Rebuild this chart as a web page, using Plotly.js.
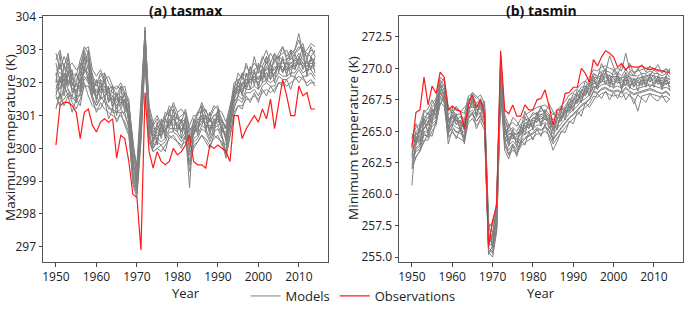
<!DOCTYPE html>
<html>
<head>
<meta charset="utf-8">
<script src="https://cdn.plot.ly/plotly-3.0.1.min.js"></script>
<style>html,body{margin:0;padding:0;background:#fff;}#chart{width:685px;height:311px;}</style>
</head>
<body>
<div id="chart"></div>
<script>
const years = Array.from({length: 65}, (_, i) => 1950 + i);

const tasmaxObs = [300.1,301.3,301.4,301.4,301.3,301.1,300.3,301.1,301.2,300.7,
300.5,300.8,300.9,300.8,300.9,299.7,300.4,300.3,299.6,298.6,
298.5,296.9,301.7,299.9,299.4,299.9,299.6,299.5,299.6,300.0,
299.8,299.9,300.1,300.4,299.6,299.5,299.5,299.4,300.1,300.0,
300.1,300.0,299.9,299.6,301.0,301.0,300.3,300.6,300.8,301.0,
300.8,301.2,300.9,301.5,300.6,301.3,302.1,301.6,301.0,301.0,
301.9,301.6,301.7,301.2,301.2];

const tasmaxModel01 = [302.6,302.0,302.5,302.9,302.1,302.0,302.4,303.0,302.6,302.0,301.9,302.3,302.0,301.8,301.9,301.6,301.9,301.6,301.4,299.9,299.2,301.1,303.7,301.0,300.7,300.9,300.6,301.0,301.1,301.3,300.9,301.0,301.1,300.5,300.8,301.1,301.3,301.0,300.9,301.2,301.3,300.8,300.7,301.2,302.0,302.1,302.2,302.5,302.3,302.4,302.5,302.5,302.8,302.5,302.6,302.9,303.1,302.7,302.8,303.0,303.3,302.9,302.8,303.0,302.9];
const tasmaxModel02 = [301.5,301.6,301.7,301.8,301.5,301.6,301.6,302.1,302.2,301.5,301.3,301.5,301.6,301.2,301.2,301.1,301.1,301.1,300.6,299.2,298.7,300.4,302.9,300.5,300.0,300.2,300.1,300.2,300.5,300.5,300.4,300.2,300.4,299.8,300.2,300.3,300.6,300.5,300.2,300.5,300.6,300.3,300.1,300.6,301.3,301.5,301.4,301.7,301.7,301.8,301.6,301.9,302.0,301.9,301.9,302.2,302.1,302.1,302.2,302.2,302.4,302.2,302.2,302.3,302.1];
const tasmaxModel03 = [302.3,301.5,302.6,301.9,302.3,301.5,302.2,302.8,302.0,302.3,301.4,302.1,301.5,301.9,301.2,301.7,301.3,301.7,300.9,299.4,299.1,300.6,303.2,301.1,300.1,300.8,300.3,300.9,300.6,301.2,300.5,300.9,300.5,298.8,300.7,300.5,301.2,300.6,300.9,300.6,301.2,300.4,299.9,301.1,301.4,302.1,301.6,302.3,301.8,302.4,301.8,302.5,302.1,302.6,302.0,302.8,302.3,302.7,302.2,302.9,302.5,302.9,302.2,302.8,302.3];
const tasmaxModel04 = [302.7,303.0,302.4,302.6,302.3,302.2,302.7,303.1,302.9,302.2,302.0,302.2,302.3,302.0,301.8,301.9,301.8,301.9,301.3,300.2,299.4,301.2,303.5,301.2,300.6,300.6,300.8,300.9,301.3,301.1,301.0,300.8,301.2,300.6,300.6,301.1,301.1,301.2,300.8,301.0,301.1,300.9,300.6,301.1,301.9,302.0,302.3,302.2,302.4,302.6,302.4,302.8,302.6,302.9,302.7,302.8,302.9,303.0,302.7,302.9,303.1,303.0,302.9,302.8,303.0];
const tasmaxModel05 = [301.3,301.4,301.5,301.7,301.4,301.2,301.5,301.9,301.9,301.5,301.1,301.4,301.2,301.1,301.0,300.9,301.0,300.8,300.5,298.9,298.5,300.2,302.8,300.3,299.9,300.0,299.9,300.1,300.3,300.4,300.2,300.1,300.2,299.5,300.0,300.2,300.4,300.3,300.1,300.3,300.4,300.1,299.9,300.4,301.1,301.3,301.3,301.5,301.5,301.6,301.5,301.7,301.8,301.7,301.8,302.0,302.0,301.9,302.0,302.1,302.2,302.1,302.0,302.1,301.9];
const tasmaxModel06 = [301.8,302.2,301.9,302.4,301.7,302.0,301.8,302.6,302.7,301.7,301.8,301.7,302.1,301.4,301.6,301.2,301.6,301.2,301.1,299.7,298.8,300.9,303.4,300.6,300.4,300.3,300.6,300.5,300.9,300.7,300.8,300.5,300.9,300.1,300.4,300.9,300.8,301.0,300.5,300.9,300.8,300.7,300.3,300.8,301.7,301.7,302.0,301.9,302.2,302.0,302.2,302.1,302.5,302.3,302.5,302.4,302.7,302.4,302.6,302.5,302.8,302.6,302.6,302.5,302.6];
const tasmaxModel07 = [302.1,301.8,302.3,302.0,302.0,301.7,302.1,302.3,302.5,302.0,301.5,302.0,301.7,301.7,301.4,301.5,301.4,301.5,300.8,299.5,299.0,300.7,303.1,300.9,300.2,300.6,300.4,300.7,300.7,301.0,300.6,300.7,300.6,300.3,300.5,300.6,301.0,300.7,300.7,300.7,301.0,300.5,300.5,300.9,301.5,301.9,301.7,302.1,302.0,302.2,301.9,302.3,302.2,302.3,302.4,302.5,302.4,302.5,302.4,302.7,302.6,302.5,302.5,302.7,302.5];
const tasmaxModel08 = [301.9,302.1,301.8,302.3,301.8,301.9,301.9,302.4,302.3,301.8,301.7,301.8,301.9,301.5,301.5,301.3,301.5,301.3,301.0,299.6,298.9,300.8,303.3,300.7,300.4,300.4,300.5,300.5,300.8,300.9,300.7,300.5,300.8,300.0,300.5,300.8,300.9,300.9,300.6,300.8,300.9,300.6,300.4,301.0,301.7,302.0,301.9,302.2,302.3,302.3,302.3,302.4,302.6,302.4,302.7,302.8,302.7,302.7,302.9,303.0,303.5,302.9,303.0,303.2,303.1];
const tasmaxModel09 = [302.4,302.3,302.2,302.5,302.0,302.1,302.3,302.7,302.8,302.1,301.9,302.1,302.0,301.8,301.7,301.6,301.7,301.6,301.2,299.8,299.3,301.0,303.6,301.0,300.5,300.7,300.5,300.8,301.0,301.0,300.9,300.8,300.9,300.4,300.7,300.9,301.0,301.0,300.8,301.0,301.0,300.8,300.6,301.0,301.8,301.9,302.0,302.1,302.1,302.3,302.1,302.3,302.4,302.4,302.4,302.6,302.6,302.6,302.6,302.7,302.9,302.7,302.6,302.7,302.7];
const tasmaxModel10 = [301.6,301.3,301.9,301.6,301.6,301.4,301.7,302.2,302.0,301.6,301.3,301.6,301.4,301.3,301.1,301.1,301.2,301.0,300.7,299.0,298.6,300.5,303.0,300.4,300.0,300.3,300.2,300.3,300.6,300.6,300.5,300.3,300.5,299.6,300.3,300.4,300.7,300.6,300.3,300.6,300.7,300.4,299.8,300.7,301.2,301.6,301.5,301.8,301.8,301.9,301.8,302.0,302.1,302.0,302.1,302.3,302.2,302.2,302.3,302.3,302.5,302.3,302.4,302.4,302.2];
const tasmaxModel11 = [302.2,302.6,302.0,302.8,301.9,302.3,302.0,302.9,302.4,302.0,301.7,302.0,301.9,301.7,301.6,301.4,301.6,301.4,301.1,299.3,298.8,300.9,303.4,300.8,300.3,300.5,300.4,300.6,300.8,300.8,300.7,300.6,300.7,300.2,300.5,300.6,300.8,300.8,300.6,300.8,300.9,300.6,300.3,300.9,301.6,301.8,301.8,302.0,302.1,302.1,302.0,302.2,302.3,302.1,302.3,302.5,302.5,302.3,302.5,302.5,302.6,302.6,302.4,302.5,302.4];
const tasmaxModel12 = [301.7,302.0,302.1,302.1,301.8,301.8,301.9,302.4,302.3,301.9,301.6,301.8,301.8,301.6,301.5,301.5,301.4,301.4,300.9,299.5,299.1,300.8,303.2,300.8,300.3,300.4,300.4,300.6,300.7,300.9,300.7,300.6,300.6,300.1,300.4,300.7,300.9,300.7,300.6,300.7,300.9,300.6,300.4,300.8,301.6,301.8,301.7,302.0,302.0,302.1,302.0,302.2,302.3,302.2,302.3,302.5,302.4,302.4,302.5,302.6,302.7,302.5,302.5,302.6,302.5];
const tasmaxModel13 = [302.0,302.9,301.6,302.3,302.4,301.4,302.6,302.4,303.0,301.6,302.1,301.5,302.3,301.4,301.9,301.0,301.9,301.1,301.3,300.3,298.9,301.3,303.5,300.3,300.8,300.1,300.9,300.3,301.2,300.5,301.1,300.3,301.0,299.9,300.9,300.4,301.3,300.5,301.1,300.4,301.2,300.5,300.7,300.6,301.8,301.6,302.3,301.8,302.5,301.9,302.6,302.0,302.8,302.1,302.9,302.3,302.8,302.2,303.0,302.4,302.7,303.1,302.3,302.8,302.6];
const tasmaxModel14 = [301.2,301.7,301.3,301.6,301.1,301.5,301.3,302.0,301.6,301.3,301.2,301.2,301.5,300.9,301.2,300.8,301.1,300.7,300.4,299.1,298.7,300.3,302.7,300.2,299.9,300.0,300.1,299.9,300.4,300.3,300.2,300.0,300.4,299.3,300.1,300.2,300.4,300.2,300.0,300.4,300.3,300.2,299.7,300.3,301.0,301.3,301.2,301.6,301.4,301.7,301.4,301.8,301.6,301.9,301.7,302.0,301.9,302.1,301.8,302.2,302.0,302.2,301.9,302.0,302.0];
const tasmaxModel15 = [302.9,302.4,302.8,302.5,302.6,302.4,302.5,303.0,303.1,302.4,302.2,302.4,302.1,302.2,301.9,301.8,302.0,301.7,301.5,300.0,299.5,301.4,303.6,301.3,300.8,301.0,300.7,301.1,301.0,301.4,301.1,301.2,301.0,300.7,301.0,301.0,301.4,301.1,301.0,301.3,301.2,301.1,300.8,301.3,301.8,302.3,302.1,302.6,302.2,302.8,302.3,302.7,303.0,302.6,302.9,302.7,303.1,302.8,303.0,302.9,303.0,303.2,302.7,303.1,302.8];
const tasmaxModel16 = [301.6,302.1,302.2,301.8,301.6,302.0,301.7,302.5,302.1,301.8,301.5,301.9,301.6,301.8,301.3,301.6,301.2,301.5,300.8,299.2,299.1,300.6,303.0,300.6,300.5,300.2,300.7,300.4,300.9,300.6,300.6,300.8,300.4,300.3,300.6,300.8,300.7,301.0,300.4,300.9,300.7,300.8,300.2,300.8,301.4,301.6,301.9,301.8,302.1,302.2,302.1,302.4,302.0,302.4,302.2,302.6,302.3,302.6,302.5,302.4,302.8,302.4,302.7,302.4,302.8];

const tasminObs = [263.7,266.5,266.7,269.3,267.1,268.6,268.0,269.7,269.3,266.7,
267.0,266.7,266.6,265.2,267.1,267.9,266.9,267.5,266.5,255.8,
257.9,259.1,271.4,266.7,266.4,267.1,266.2,266.2,267.1,266.7,
266.7,267.5,267.6,268.3,267.0,265.5,266.7,266.7,268.0,268.1,
268.5,268.5,270.0,269.6,268.9,270.7,270.2,270.9,271.4,271.2,
270.9,270.1,270.4,269.9,270.2,270.1,270.1,270.2,270.0,269.9,
270.0,269.8,269.8,269.7,269.7];

const tasminModel01 = [264.0,265.0,265.3,266.2,266.0,266.9,267.3,269.1,268.6,266.3,266.7,266.3,266.4,265.9,267.5,267.8,267.2,267.6,266.8,257.2,257.0,258.9,270.6,265.8,265.0,265.3,265.0,265.6,265.9,266.0,266.3,266.5,266.6,266.7,266.4,265.9,266.3,266.6,267.0,267.5,267.7,268.0,268.5,268.6,268.9,269.6,269.4,269.8,269.8,269.7,269.5,269.7,269.4,269.9,269.5,269.4,269.4,269.6,269.6,269.8,269.6,269.6,269.4,269.6,269.3];
const tasminModel02 = [262.3,263.6,263.8,264.9,264.5,265.6,265.9,267.8,267.3,264.8,265.4,264.9,265.0,264.5,266.1,266.5,265.8,266.3,265.5,255.8,255.4,257.4,268.5,264.2,263.5,264.0,263.5,264.2,264.5,264.7,264.9,265.3,265.1,265.4,265.1,264.4,264.9,265.3,265.7,266.1,266.4,266.7,267.1,267.3,267.6,268.2,268.1,268.4,268.5,268.3,268.2,268.3,268.1,268.5,268.2,268.0,268.1,268.2,268.3,268.4,268.3,268.1,268.0,268.2,267.9];
const tasminModel03 = [260.7,264.6,263.9,266.0,264.8,266.8,266.0,268.9,267.5,266.2,265.4,266.3,265.0,266.0,266.3,267.7,266.1,267.5,265.8,256.9,255.8,258.7,269.0,265.6,263.8,265.2,263.7,265.4,264.7,266.0,265.1,266.5,265.4,266.7,265.2,265.8,265.1,266.6,265.9,267.3,266.6,268.0,267.3,268.6,267.8,269.4,268.3,269.7,268.7,269.5,268.4,269.6,268.3,269.7,268.4,269.2,268.2,269.4,268.5,269.6,268.5,269.4,268.3,269.4,268.2];
const tasminModel04 = [264.5,265.3,265.6,266.7,266.3,267.2,267.6,269.3,269.0,266.6,267.0,266.8,266.6,266.4,267.8,268.0,267.6,267.9,267.2,257.6,257.5,259.4,271.0,266.3,265.5,265.7,265.4,266.0,266.3,266.5,266.7,266.9,267.0,267.1,266.8,266.3,266.7,267.0,267.4,267.9,268.1,268.4,268.8,269.0,269.3,269.9,269.8,270.1,270.2,270.0,269.9,270.0,269.8,271.2,269.9,269.7,269.8,269.9,270.0,270.1,270.0,269.9,269.8,269.9,269.8];
const tasminModel05 = [262.0,263.0,263.4,264.3,264.3,265.0,265.5,267.3,267.0,264.5,264.9,264.6,264.4,264.2,265.7,266.0,265.5,265.8,265.1,255.4,255.0,257.0,268.2,263.9,263.1,263.5,263.2,263.8,264.1,264.3,264.5,264.8,264.8,265.0,264.7,264.0,264.5,264.9,265.3,265.7,266.0,266.3,266.7,266.9,267.2,267.8,267.7,268.0,268.1,267.9,267.8,267.9,267.7,268.1,267.8,267.6,266.6,267.8,267.9,268.0,267.9,267.8,267.7,267.8,267.5];
const tasminModel06 = [263.6,264.0,265.0,265.2,265.8,266.0,267.0,268.2,268.4,265.3,266.3,265.5,265.9,265.1,267.0,266.9,266.9,266.7,266.5,256.2,256.6,258.0,269.8,264.8,264.6,264.4,264.6,264.7,265.5,265.2,265.9,265.7,266.2,265.9,266.1,265.0,265.9,265.8,266.7,266.6,267.4,267.2,268.1,267.8,268.6,268.7,269.1,268.9,269.5,268.8,269.2,268.8,269.1,269.0,269.2,268.5,269.1,268.7,269.3,268.9,269.3,268.7,269.1,268.7,269.0];
const tasminModel07 = [263.0,264.4,264.2,265.7,265.0,266.4,266.3,268.6,267.8,265.8,265.8,265.9,265.4,265.5,266.6,267.3,266.4,267.1,266.0,256.6,256.1,258.4,269.3,265.2,264.1,264.8,264.1,265.1,265.0,265.6,265.4,266.1,265.7,266.3,265.6,265.4,265.4,266.2,266.2,267.0,266.9,267.6,267.6,268.2,268.1,269.1,268.6,269.3,269.0,269.2,268.7,269.2,268.6,269.4,268.7,268.9,268.6,269.1,268.8,269.3,268.8,269.1,268.6,269.1,268.5];
const tasminModel08 = [263.9,264.8,265.1,266.0,265.7,266.6,266.9,268.8,268.3,265.9,266.2,266.0,265.8,265.6,267.1,267.4,266.9,267.2,266.5,256.9,256.7,258.6,270.2,265.4,264.7,265.0,264.7,265.3,265.6,265.8,266.0,266.3,266.3,266.5,266.2,265.6,266.0,266.4,266.8,267.2,267.5,267.8,268.2,268.4,268.7,269.3,269.2,269.5,269.6,269.4,269.3,269.4,269.2,269.6,269.3,269.1,269.2,269.3,269.4,269.5,269.4,269.3,269.2,269.3,269.1];
const tasminModel09 = [262.8,263.7,264.0,265.0,264.9,265.8,266.2,268.0,267.6,265.2,265.6,265.3,265.2,264.9,266.4,266.7,266.2,266.5,265.8,256.1,255.9,257.8,269.0,264.6,263.9,264.2,263.9,264.5,264.8,265.0,265.2,265.5,265.5,265.7,265.4,264.8,265.2,265.6,266.0,266.4,266.7,267.0,267.4,267.6,267.9,268.5,268.4,268.7,268.8,268.6,268.5,268.6,268.4,268.8,268.5,268.3,268.4,268.5,268.6,268.7,268.6,268.5,268.4,268.5,268.3];
const tasminModel10 = [263.4,263.9,264.7,265.3,265.5,266.0,266.8,268.3,268.1,265.4,266.1,265.6,265.7,265.2,266.9,267.0,266.7,266.8,266.3,256.4,256.4,258.1,269.6,265.0,264.4,264.5,264.4,264.8,265.3,265.3,265.7,265.8,266.0,266.0,265.9,265.1,265.7,265.9,266.5,266.7,267.2,267.3,267.9,267.9,268.4,268.8,268.9,269.0,269.3,268.9,269.0,268.9,268.9,269.1,269.0,268.6,268.9,268.8,269.1,269.0,269.1,268.8,268.9,268.8,268.8];
const tasminModel11 = [264.2,264.3,265.4,265.6,266.1,266.3,267.2,268.5,268.7,265.7,266.5,265.8,266.2,265.4,267.3,267.1,267.1,266.9,266.7,256.3,256.9,258.3,269.9,265.1,264.9,264.6,264.9,264.9,265.7,265.4,266.1,265.9,266.4,266.1,266.3,265.2,266.1,266.0,266.9,266.8,267.6,267.4,268.3,268.0,268.8,268.9,269.3,269.1,269.7,269.0,269.4,269.0,269.3,269.2,269.4,268.7,269.3,268.9,269.5,269.1,269.5,268.9,269.3,268.9,269.2];
const tasminModel12 = [262.6,263.4,263.6,264.7,264.6,265.4,265.7,267.6,267.3,264.9,265.2,265.0,264.8,264.6,266.0,266.4,265.8,266.2,265.4,255.6,255.3,257.3,268.4,264.2,263.2,263.8,263.3,264.0,264.4,264.6,264.8,265.1,265.1,265.3,265.0,264.3,264.8,265.2,265.6,266.0,266.3,266.6,267.0,267.2,267.5,268.1,268.0,268.3,268.4,268.2,268.1,268.2,268.0,268.4,268.1,267.9,268.0,268.1,268.2,268.3,268.2,268.1,268.0,268.1,267.8];
const tasminModel13 = [264.8,263.9,265.6,265.9,266.5,265.7,267.6,268.0,268.1,264.6,266.9,265.8,265.7,264.3,267.6,267.4,266.8,266.3,267.4,257.9,255.7,259.2,270.4,264.0,265.6,264.6,264.4,263.9,266.2,265.5,265.6,266.0,267.0,266.3,265.9,264.2,266.5,266.2,266.4,267.1,268.0,267.8,267.7,268.4,269.1,268.2,268.8,269.4,270.0,268.5,269.9,269.3,269.1,268.6,269.8,269.4,270.0,269.5,268.7,269.4,269.9,269.6,268.7,269.4,270.0];
const tasminModel14 = [262.1,262.9,263.5,264.2,264.8,264.6,265.9,267.1,267.8,264.0,265.1,264.4,265.3,264.0,266.2,266.5,265.2,266.0,265.6,255.2,255.9,257.1,268.0,263.5,262.8,263.9,263.0,264.3,263.9,265.0,264.3,265.2,264.6,265.6,264.5,263.5,264.2,265.0,264.9,265.8,265.6,266.6,266.2,267.3,266.9,267.4,268.0,267.6,268.2,267.5,268.1,267.6,268.3,267.5,268.0,267.2,267.9,267.6,267.3,268.0,267.6,267.4,267.9,267.3,267.6];
const tasminModel15 = [264.4,265.6,264.9,266.5,266.8,267.5,266.9,268.7,269.2,267.0,266.4,267.0,266.5,266.9,267.2,268.1,267.8,267.4,266.9,257.3,257.8,259.0,270.9,266.0,265.2,266.1,265.8,265.2,266.6,265.9,266.5,266.3,266.9,266.4,267.2,266.6,265.9,267.0,266.6,267.6,267.3,268.3,268.0,269.0,268.6,269.6,269.2,270.4,269.7,271.0,270.1,269.5,270.3,269.8,270.4,269.6,269.9,270.3,269.7,270.2,269.8,270.3,269.6,270.0,269.5];
const tasminModel16 = [263.1,264.9,264.3,265.2,265.6,266.6,266.4,268.2,267.4,265.1,265.6,266.4,265.1,265.8,266.4,267.6,266.3,267.3,266.0,256.0,256.8,258.5,269.2,265.3,264.3,264.9,264.7,265.0,265.2,265.9,265.3,266.4,265.6,266.0,265.6,265.6,265.3,266.2,266.6,266.5,267.0,267.5,267.3,268.3,267.9,268.6,268.5,269.0,268.9,268.8,268.7,269.4,268.4,269.1,268.5,269.2,268.9,268.6,269.1,268.5,268.9,269.2,268.5,268.8,268.9];

const tasmaxModels = [tasmaxModel01,tasmaxModel02,tasmaxModel03,tasmaxModel04,tasmaxModel05,tasmaxModel06,tasmaxModel07,tasmaxModel08,tasmaxModel09,tasmaxModel10,tasmaxModel11,tasmaxModel12,tasmaxModel13,tasmaxModel14,tasmaxModel15,tasmaxModel16];
const tasminModels = [tasminModel01,tasminModel02,tasminModel03,tasminModel04,tasminModel05,tasminModel06,tasminModel07,tasminModel08,tasminModel09,tasminModel10,tasminModel11,tasminModel12,tasminModel13,tasminModel14,tasminModel15,tasminModel16];

const panelTitles = ['(a) tasmax', '(b) tasmin'];
const yTitles = ['Maximum temperature (K)', 'Minimum temperature (K)'];
const xTitle = 'Year';
const legendNames = ['Models', 'Observations'];
const xTicks = [1950,1960,1970,1980,1990,2000,2010];
const yTicksMax = [297,298,299,300,301,302,303,304];
const yTicksMin = [255,257.5,260,262.5,265,267.5,270,272.5];

const GRAY = '#808080';
const RED = '#ff1a1a';
const FONT = 'Open Sans, Noto Sans, sans-serif';

const traces = [];
tasmaxModels.forEach((m, i) => traces.push({
  x: years, y: m, type: 'scatter', mode: 'lines', xaxis: 'x', yaxis: 'y',
  line: {color: GRAY, width: 1}, name: legendNames[0], legendgroup: 'models',
  showlegend: i === 0, hoverinfo: 'skip'
}));
traces.push({x: years, y: tasmaxObs, type: 'scatter', mode: 'lines', xaxis: 'x', yaxis: 'y',
  line: {color: RED, width: 1.2}, name: legendNames[1], legendgroup: 'obs', showlegend: true});
tasminModels.forEach((m) => traces.push({
  x: years, y: m, type: 'scatter', mode: 'lines', xaxis: 'x2', yaxis: 'y2',
  line: {color: GRAY, width: 1}, name: legendNames[0], legendgroup: 'models',
  showlegend: false, hoverinfo: 'skip'
}));
traces.push({x: years, y: tasminObs, type: 'scatter', mode: 'lines', xaxis: 'x2', yaxis: 'y2',
  line: {color: RED, width: 1.2}, name: legendNames[1], legendgroup: 'obs', showlegend: false});

const W = 685, H = 311;
const px = v => v / W, py = v => (H - v) / H;

const axisCommon = {
  showgrid: false, zeroline: false, showline: true, mirror: true,
  linecolor: '#555', linewidth: 1, ticks: 'outside', ticklen: 3.5, tickwidth: 1,
  tickcolor: '#444', tickfont: {family: FONT, size: 12, color: '#222'}
};

const layout = {
  width: W, height: H,
  margin: {l: 0, r: 0, t: 0, b: 0},
  paper_bgcolor: '#fff', plot_bgcolor: '#fff',
  font: {family: FONT, color: '#222'},
  showlegend: true,
  legend: {orientation: 'h', x: px(353), xanchor: 'center', y: py(305), yanchor: 'middle',
    font: {family: FONT, size: 13, color: '#222'}, bgcolor: 'rgba(0,0,0,0)', tracegroupgap: 0},
  xaxis: Object.assign({}, axisCommon, {domain: [px(43), px(328)], range: [1946.8, 2017.2],
    tickvals: xTicks, anchor: 'y', ticklabelstandoff: 0}),
  yaxis: Object.assign({}, axisCommon, {domain: [py(270), py(16)], range: [296.53, 304.05],
    tickvals: yTicksMax, anchor: 'x'}),
  xaxis2: Object.assign({}, axisCommon, {domain: [px(399), px(683)], range: [1946.8, 2017.2],
    tickvals: xTicks, anchor: 'y2', ticklabelstandoff: 0}),
  yaxis2: Object.assign({}, axisCommon, {domain: [py(270), py(16)], range: [254.6, 274.2],
    tickvals: yTicksMin, tickformat: '.1f', anchor: 'x2'}),
  annotations: [
    {text: '<b>' + panelTitles[0] + '</b>', xref: 'paper', yref: 'paper', x: px(185.5), y: 1, xanchor: 'center', yanchor: 'top', borderpad: 0, showarrow: false, font: {family: FONT, size: 14, color: '#111'}},
    {text: '<b>' + panelTitles[1] + '</b>', xref: 'paper', yref: 'paper', x: px(541), y: 1, xanchor: 'center', yanchor: 'top', borderpad: 0, showarrow: false, font: {family: FONT, size: 14, color: '#111'}},
    {text: yTitles[0], xref: 'paper', yref: 'paper', x: px(10), y: py(142), xanchor: 'center', yanchor: 'middle', textangle: -90, showarrow: false, font: {family: FONT, size: 13.5, color: '#222'}},
    {text: yTitles[1], xref: 'paper', yref: 'paper', x: px(353), y: py(142), xanchor: 'center', yanchor: 'middle', textangle: -90, showarrow: false, font: {family: FONT, size: 13.5, color: '#222'}},
    {text: xTitle, xref: 'paper', yref: 'paper', x: px(185.5), y: py(301.5), xanchor: 'center', yanchor: 'middle', borderpad: 0, showarrow: false, font: {family: FONT, size: 13, color: '#222'}},
    {text: xTitle, xref: 'paper', yref: 'paper', x: px(541), y: py(301.5), xanchor: 'center', yanchor: 'middle', borderpad: 0, showarrow: false, font: {family: FONT, size: 13, color: '#222'}}
  ]
};

Plotly.newPlot('chart', traces, layout, {staticPlot: true, displayModeBar: false});
</script>
</body>
</html>
